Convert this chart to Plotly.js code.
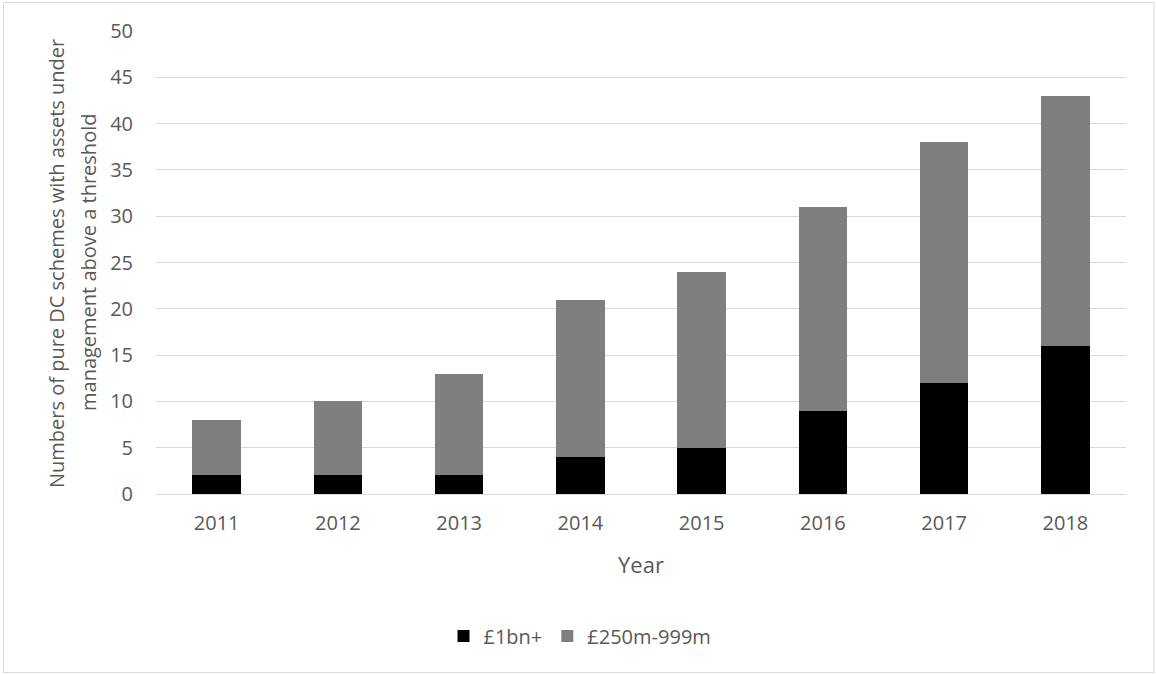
<!DOCTYPE html>
<html>
<head>
<meta charset="utf-8">
<script src="https://cdn.plot.ly/plotly-3.0.1.min.js"></script>
<style>html,body{margin:0;padding:0;background:#fff;}</style>
</head>
<body>
<div id="chart" style="width:1156px;height:674px;"></div>
<script>
const years = ['2011','2012','2013','2014','2015','2016','2017','2018'];
const over1bn = [2, 2, 2, 4, 5, 9, 12, 16];
const mid250to999 = [6, 8, 11, 17, 19, 22, 26, 27];
const seriesNames = ['£1bn+', '£250m-999m'];
const yTicks = [0,5,10,15,20,25,30,35,40,45,50];
const yTitleLines = ['Numbers of pure DC schemes with assets under', 'management above a threshold'];

const fontFam = '"Open Sans", "Noto Sans", sans-serif';
const txt = '#595959';

const traces = [
  {type:'bar', name:seriesNames[0], x:years, y:over1bn, marker:{color:'#000000'}},
  {type:'bar', name:seriesNames[1], x:years, y:mid250to999, marker:{color:'#7f7f7f'}}
];

const L=156, R=30, T=31, B=180;
const W=1156, H=674, pw=W-L-R, ph=H-T-B;
const px = v => (v-L)/pw;
const py = v => (H-B-v)/ph;

const layout = {
  width:W, height:H,
  margin:{l:L, r:R, t:T, b:B, pad:0},
  paper_bgcolor:'#ffffff', plot_bgcolor:'#ffffff',
  barmode:'stack', bargap:0.6,
  font:{family:fontFam, color:txt, size:20},
  showlegend:true,
  legend:{orientation:'h', x:px(580), xanchor:'center', y:py(636), yanchor:'middle',
          font:{size:20, color:txt}, traceorder:'normal'},
  xaxis:{type:'category', showgrid:false, zeroline:false, showline:false, ticks:'',
         tickfont:{size:20, color:txt}, ticklabelstandoff:15,
         title:{text:'Year', font:{size:22, color:txt}, standoff:22}},
  yaxis:{range:[0,50], tickvals:yTicks, showgrid:true, gridcolor:'#d9d9d9', gridwidth:1,
         zeroline:true, zerolinecolor:'#d9d9d9', showline:false, ticks:'',
         tickfont:{size:20, color:txt}, ticklabelstandoff:22},
  annotations:[
    {xref:'paper', yref:'paper', x:px(56), y:py(264), xanchor:'center', yanchor:'middle',
     textangle:-90, showarrow:false, text:yTitleLines[0], font:{size:20, color:txt}},
    {xref:'paper', yref:'paper', x:px(88), y:py(263), xanchor:'center', yanchor:'middle',
     textangle:-90, showarrow:false, text:yTitleLines[1], font:{size:20, color:txt}}
  ],
  shapes:[{type:'rect', xref:'paper', yref:'paper', x0:px(3.5), x1:px(1154), y0:py(672.5), y1:py(2.5),
           line:{color:'#d9d9d9', width:1}, layer:'below'}]
};

Plotly.newPlot('chart', traces, layout, {displayModeBar:false, staticPlot:true});
</script>
</body>
</html>
